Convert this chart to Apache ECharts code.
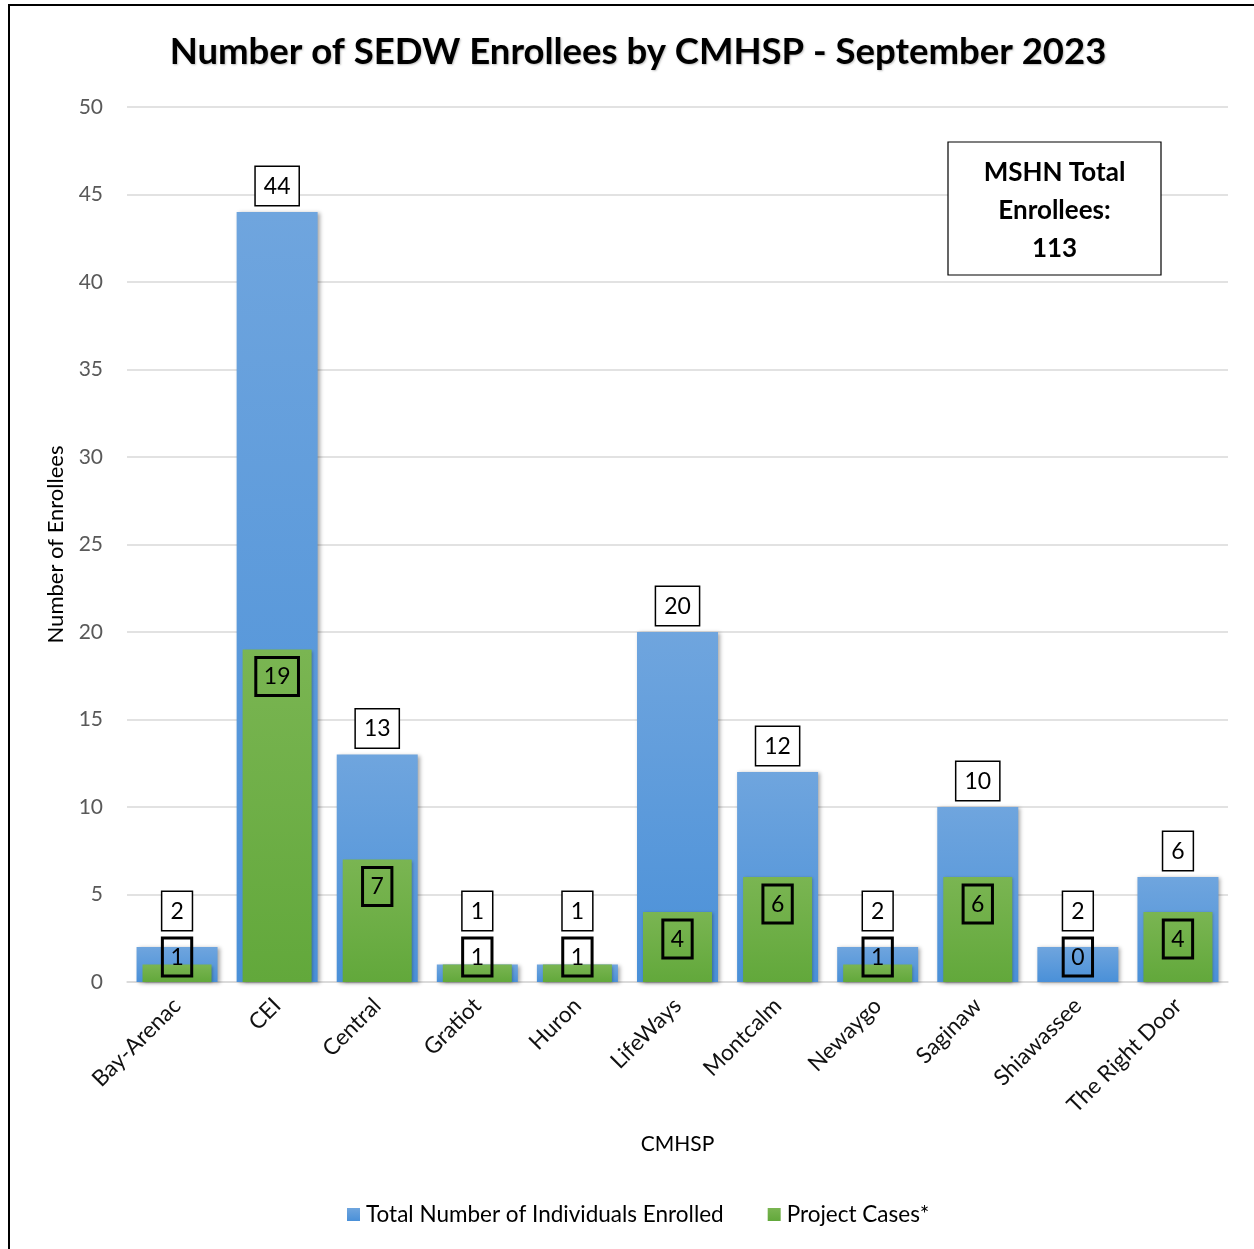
<!DOCTYPE html>
<html><head><meta charset="utf-8">
<script src="https://cdn.jsdelivr.net/npm/echarts@6/dist/echarts.min.js"></script>
<style>html,body{margin:0;padding:0;background:#fff}#c{width:1254px;height:1249px}</style>
</head><body><div id="c"></div>
<script>
const categories = ['Bay-Arenac','CEI','Central','Gratiot','Huron','LifeWays','Montcalm','Newaygo','Saginaw','Shiawassee','The Right Door'];
const totalEnrolled = [2,44,13,1,1,20,12,2,10,2,6];
const projectCases = [1,19,7,1,1,4,6,1,6,0,4];
const yTicks = {min:0, max:50, interval:5};
const FONT = 'Lato';

const boxLabel = {
  show: true, color: '#000', fontFamily: FONT, fontSize: 23, lineHeight: 25,
  borderColor: '#000', borderWidth: 1.5, padding: [7, 8, 6, 8], backgroundColor: 'rgba(255,255,255,0)'
};
const blueData = totalEnrolled.map(v => v <= 2
  ? {value: v, label: Object.assign({}, boxLabel, {position: 'insideBottom', distance: 52, backgroundColor:'#fff'})}
  : {value: v});
const greenData = projectCases.map(v => v <= 1
  ? {value: v, label: Object.assign({}, boxLabel, {position: 'insideBottom', distance: 6})}
  : {value: v});

const chart = echarts.init(document.getElementById('c'), null, {renderer: 'canvas'});
chart.setOption({
  backgroundColor: '#fff',
  animation: false,
  title: {
    text: 'Number of SEDW Enrollees by CMHSP - September 2023',
    left: 633, top: 29, textAlign: 'center',
    textStyle: {fontFamily: FONT, fontWeight: 'bold', fontSize: 36.5, color: '#000',
      textShadowColor: 'rgba(0,0,0,0.25)', textShadowBlur: 2, textShadowOffsetX: 1, textShadowOffsetY: 1}
  },
  grid: {left: 127, right: 26, top: 107, bottom: 267, containLabel: false},
  legend: {
    bottom: 18, left: 342, itemWidth: 13, itemHeight: 13, itemGap: 44,
    icon: 'rect',
    textStyle: {fontFamily: FONT, fontSize: 22.5, color: '#000', padding: [0,0,0,1]},
    data: ['Total Number of Individuals Enrolled', 'Project Cases*']
  },
  xAxis: [{
    type: 'category', data: categories,
    name: 'CMHSP', nameLocation: 'middle', nameGap: 152,
    nameTextStyle: {fontFamily: FONT, fontSize: 21, color: '#000'},
    axisLine: {lineStyle: {color: '#d9d9d9', width: 1.5}},
    axisTick: {show: false},
    axisLabel: {rotate: 45, fontFamily: FONT, fontSize: 22.5, color: '#111', margin: 20, interval: 0}
  }, {
    type: 'category', data: categories, show: false
  }],
  yAxis: {
    type: 'value', min: yTicks.min, max: yTicks.max, interval: yTicks.interval,
    name: 'Number of Enrollees', nameLocation: 'middle', nameGap: 60,
    nameTextStyle: {fontFamily: FONT, fontSize: 22, color: '#000'},
    axisLine: {show: false}, axisTick: {show: false},
    axisLabel: {fontFamily: FONT, fontSize: 21, color: '#595959', margin: 24},
    splitLine: {lineStyle: {color: '#d9d9d9', width: 1.5}}
  },
  series: [{
    name: 'Total Number of Individuals Enrolled', type: 'bar', xAxisIndex: 0,
    barWidth: 81, data: blueData,
    itemStyle: {
      color: new echarts.graphic.LinearGradient(0,0,0,1,[{offset:0,color:'#6fa5de'},{offset:1,color:'#4a90d8'}]),
      shadowColor: 'rgba(0,0,0,0.35)', shadowBlur: 4, shadowOffsetX: 2, shadowOffsetY: 1
    },
    label: Object.assign({}, boxLabel, {position: 'top', distance: 7, backgroundColor: '#fff'}),
    z: 2
  }, {
    name: 'Project Cases*', type: 'bar', xAxisIndex: 1,
    barWidth: 69, data: greenData,
    itemStyle: {
      color: new echarts.graphic.LinearGradient(0,0,0,1,[{offset:0,color:'#7ab552'},{offset:1,color:'#62a83b'}]),
      shadowColor: 'rgba(0,0,0,0.3)', shadowBlur: 3, shadowOffsetX: 1, shadowOffsetY: 1
    },
    label: Object.assign({}, boxLabel, {position: 'insideTop', distance: 8}),
    z: 3
  }],
  graphic: [
    {type: 'rect', shape: {x: 9, y: 5, width: 1300, height: 1300}, style: {fill: 'none', stroke: '#000', lineWidth: 2}, z: 0, silent: true},
    {type: 'rect', shape: {x: 948, y: 142, width: 213, height: 133}, style: {fill: '#fff', stroke: '#000', lineWidth: 1.2}, z: 10},
    {type: 'text', x: 1054.5, y: 211, z: 11, style: {
      text: 'MSHN Total\nEnrollees:\n113', textAlign: 'center', textVerticalAlign: 'middle',
      font: 'bold 26px ' + FONT, fill: '#000', lineHeight: 38
    }}
  ]
});
</script>
</body></html>
